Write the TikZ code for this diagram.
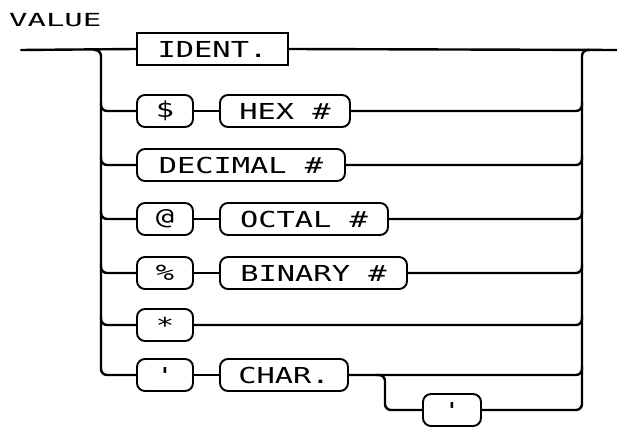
\documentclass[tikz,border=0pt]{standalone}
\usepackage{fontspec}
\newfontfamily\dm[FakeStretch=1.38]{DejaVu Sans Mono}
\newfontfamily\dmt[FakeStretch=1.7]{DejaVu Sans Mono}
\begin{document}
\begin{tikzpicture}[x=1pt,y=-1pt,
  wire/.style={line width=2.4pt,line cap=round,line join=round},
  rc/.style={wire,rounded corners=6pt},
  term/.style={draw,line width=1.9pt,rounded corners=8pt,minimum height=32pt,inner sep=0pt,font=\fontsize{22}{22}\dm},
  nterm/.style={draw,line width=1.9pt,minimum height=32pt,inner sep=0pt,font=\fontsize{22}{22}\dm}]
\useasboundingbox (0,0) rectangle (617,427);
\node[anchor=west,font=\fontsize{18}{18}\dmt,inner sep=0pt] (title) at (9,20) {VALUE};
% boxes
\node[nterm,minimum width=151pt] (ident) at (212.5,49) {IDENT.};
\node[term,minimum width=56pt] (dol) at (165,111) {\$};
\node[term,minimum width=130pt] (hex) at (285,111) {HEX \#};
\node[term,minimum width=208pt] (dec) at (241,165) {DECIMAL \#};
\node[term,minimum width=56pt] (at) at (165,219) {@};
\node[term,minimum width=168pt] (oct) at (304,219) {OCTAL \#};
\node[term,minimum width=56pt] (pct) at (165,273) {\%};
\node[term,minimum width=187pt] (bin) at (313.5,273) {BINARY \#};
\node[term,minimum width=56pt] (ast) at (165,325) {*};
\node[term,minimum width=56pt] (q1) at (165,375) {'};
\node[term,minimum width=128pt] (chr) at (284,375) {CHAR.};
\node[term,minimum width=58pt] (q2) at (452,410) {'};
% coordinates
\coordinate (in) at (21,50);
\coordinate (out) at (617,50);
% main line
\draw[wire] (in) -- (ident.west);
\draw[wire] (ident.east) -- (out);
% left rail
\draw[rc] (94,50) -- (101,50) -- (101,375) -- (q1.west);
\foreach \n in {dol,dec,at,pct,ast}{
  \draw[rc] (101,0 |- \n.west) ++(0,-9) -- (101,0 |- \n.west) -- (\n.west);
}
% sequences
\draw[wire] (dol.east) -- (hex.west);
\draw[wire] (at.east) -- (oct.west);
\draw[wire] (pct.east) -- (bin.west);
\draw[wire] (q1.east) -- (chr.west);
% right rail
\draw[rc] (q2.east) -- (582,410) -- (582,50) -- (590,50);
\foreach \n in {hex,dec,oct,bin,ast,chr}{
  \draw[rc] (\n.east) -- (582,0 |- \n.east) -- ++(0,-9);
}
% lower branch
\draw[rc] (376,375) -- (385,375) -- (385,410) -- (q2.west);
\end{tikzpicture}
\end{document}
